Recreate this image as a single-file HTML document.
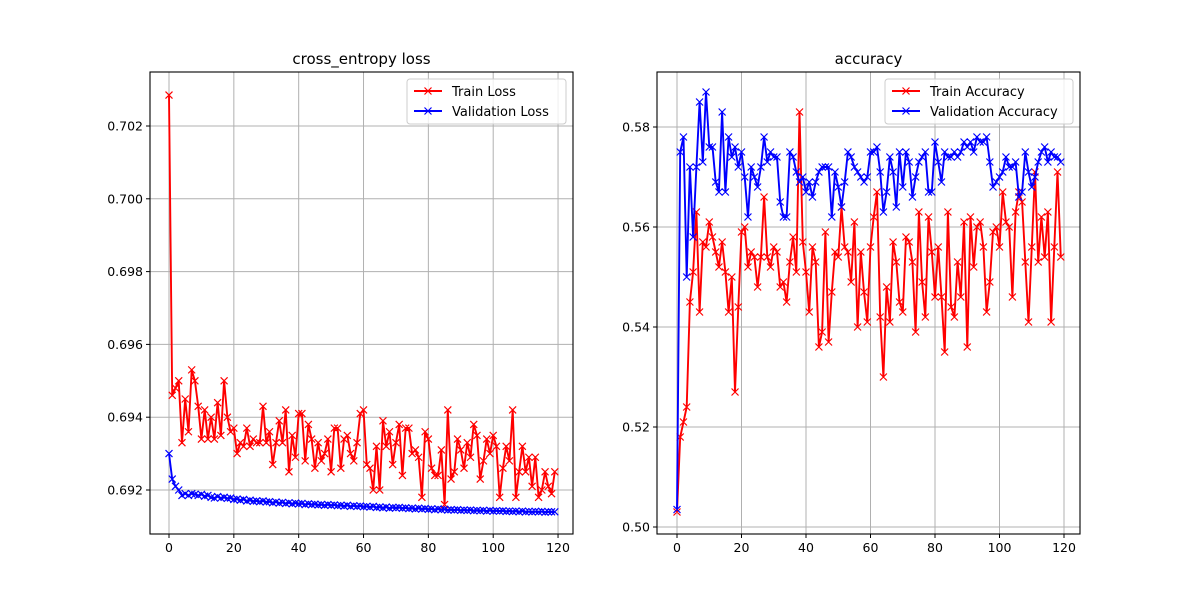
<!DOCTYPE html>
<html><head><meta charset="utf-8"><style>
body{margin:0;background:#fff}
svg{display:block;font-family:"DejaVu Sans","Liberation Sans",sans-serif}
</style></head><body>
<svg id="fig" width="1200" height="600" viewBox="0 0 1200 600"></svg>
<script>
const epochs = Array.from({length:120},(_,i)=>i);
const trainLoss = [0.70285,0.6946,0.6948,0.6950,0.6933,0.6945,0.6936,0.6953,0.6950,0.6943,0.6934,0.6942,0.6934,0.6940,0.6934,0.6944,0.6935,0.6950,0.6940,0.6936,0.6937,0.6930,0.6933,0.6932,0.6937,0.6932,0.6934,0.6933,0.6933,0.6943,0.6933,0.6936,0.6927,0.6933,0.6939,0.6933,0.6942,0.6925,0.6935,0.6929,0.6941,0.6941,0.6928,0.6938,0.6934,0.6926,0.6933,0.6928,0.6930,0.6934,0.6925,0.6937,0.6937,0.6926,0.6934,0.6935,0.6930,0.6928,0.6933,0.6941,0.6942,0.6927,0.6926,0.6920,0.6932,0.6920,0.6939,0.6932,0.6936,0.6927,0.6933,0.6938,0.6924,0.6937,0.6937,0.6930,0.6931,0.6929,0.6918,0.6936,0.6934,0.6926,0.6924,0.6924,0.6931,0.6916,0.6942,0.6923,0.6925,0.6934,0.6931,0.6926,0.6933,0.6929,0.6938,0.6935,0.6923,0.6928,0.6934,0.6930,0.6935,0.6932,0.6918,0.6926,0.6932,0.6928,0.6942,0.6918,0.6925,0.6932,0.6925,0.6929,0.6921,0.6929,0.6918,0.6920,0.6925,0.6921,0.6919,0.6925];
const valLoss = [0.6930,0.6923,0.6921,0.6920,0.69185,0.6919,0.69185,0.6919,0.69188,0.69185,0.69188,0.69183,0.69185,0.6918,0.69178,0.69182,0.69178,0.6918,0.69177,0.69178,0.69174,0.69175,0.69172,0.69174,0.6917,0.69172,0.69169,0.6917,0.69168,0.6917,0.69167,0.69168,0.69165,0.69167,0.69164,0.69166,0.69163,0.69165,0.69162,0.69164,0.69162,0.69163,0.6916,0.69162,0.6916,0.69161,0.69159,0.6916,0.69158,0.6916,0.69158,0.69159,0.69157,0.69158,0.69156,0.69158,0.69155,0.69157,0.69155,0.69156,0.69154,0.69155,0.69153,0.69155,0.69152,0.69153,0.69151,0.69153,0.6915,0.69152,0.69151,0.69152,0.6915,0.69151,0.69149,0.6915,0.69148,0.6915,0.69148,0.69149,0.69147,0.69148,0.69146,0.69148,0.69146,0.69147,0.69145,0.69146,0.69145,0.69146,0.69144,0.69145,0.69144,0.69145,0.69143,0.69144,0.69143,0.69144,0.69142,0.69144,0.69142,0.69143,0.69142,0.69143,0.69141,0.69142,0.69141,0.69142,0.6914,0.69142,0.6914,0.69141,0.6914,0.69141,0.6914,0.69141,0.69139,0.6914,0.6914,0.6914];
const trainAcc = [0.503,0.518,0.521,0.524,0.545,0.551,0.563,0.543,0.557,0.556,0.561,0.558,0.555,0.552,0.557,0.551,0.543,0.550,0.527,0.544,0.559,0.560,0.552,0.555,0.554,0.548,0.554,0.566,0.554,0.552,0.556,0.555,0.548,0.549,0.545,0.553,0.558,0.551,0.583,0.557,0.551,0.543,0.556,0.553,0.536,0.539,0.559,0.537,0.547,0.555,0.554,0.564,0.556,0.555,0.549,0.561,0.540,0.555,0.547,0.541,0.556,0.562,0.567,0.542,0.530,0.548,0.541,0.557,0.553,0.545,0.543,0.558,0.557,0.553,0.539,0.563,0.549,0.542,0.562,0.555,0.546,0.556,0.546,0.535,0.563,0.544,0.542,0.553,0.546,0.561,0.536,0.562,0.552,0.560,0.561,0.556,0.543,0.549,0.559,0.560,0.556,0.567,0.561,0.560,0.546,0.563,0.567,0.565,0.553,0.541,0.556,0.571,0.553,0.562,0.554,0.563,0.541,0.556,0.571,0.554];
const valAcc = [0.5035,0.575,0.578,0.550,0.572,0.558,0.572,0.585,0.573,0.587,0.576,0.576,0.569,0.567,0.583,0.567,0.578,0.574,0.576,0.572,0.575,0.570,0.562,0.572,0.570,0.568,0.572,0.578,0.573,0.575,0.574,0.574,0.565,0.562,0.562,0.575,0.574,0.571,0.569,0.570,0.567,0.569,0.566,0.569,0.571,0.572,0.572,0.572,0.562,0.571,0.568,0.564,0.569,0.575,0.574,0.572,0.571,0.570,0.569,0.570,0.575,0.575,0.576,0.571,0.563,0.567,0.574,0.571,0.564,0.575,0.568,0.575,0.573,0.566,0.570,0.573,0.574,0.575,0.567,0.567,0.577,0.573,0.569,0.575,0.574,0.574,0.575,0.574,0.575,0.577,0.576,0.577,0.575,0.578,0.577,0.577,0.578,0.573,0.568,0.569,0.570,0.571,0.574,0.572,0.572,0.573,0.566,0.567,0.575,0.571,0.568,0.570,0.573,0.575,0.576,0.573,0.575,0.574,0.574,0.573];
const xTicks = [0,20,40,60,80,100,120];
const lossTicks = [0.692,0.694,0.696,0.698,0.700,0.702];
const accTicks = [0.50,0.52,0.54,0.56,0.58];

const NS="http://www.w3.org/2000/svg";
const svg=document.getElementById('fig');
function mk(tag,attrs,parent){const e=document.createElementNS(NS,tag);for(const k in attrs)e.setAttribute(k,attrs[k]);(parent||svg).appendChild(e);return e;}

function panel(cfg){
  const g=mk('g',{});
  
  
  const X=v=>cfg.x0+v*cfg.xs, Y=v=>cfg.y0-(v-cfg.yb)*cfg.ys;
  xTicks.forEach(t=>{const l=mk('line',{x1:X(t),x2:X(t),y1:cfg.top,y2:cfg.bottom,stroke:'#b0b0b0','stroke-width':1},g);
    
    mk('line',{x1:X(t),x2:X(t),y1:cfg.bottom,y2:cfg.bottom+4,stroke:'#000'},g);
    const tx=mk('text',{x:X(t),y:cfg.bottom+18,'font-size':12.5,'text-anchor':'middle'},g);tx.textContent=t;
    });
  cfg.yt.forEach(t=>{const l=mk('line',{x1:cfg.left,x2:cfg.right,y1:Y(t),y2:Y(t),stroke:'#b0b0b0','stroke-width':1},g);
    
    mk('line',{x1:cfg.left-4,x2:cfg.left,y1:Y(t),y2:Y(t),stroke:'#000'},g);
    const tx=mk('text',{x:cfg.left-7,y:Y(t)+4.5,'font-size':12.5,'text-anchor':'end'},g);tx.textContent=t.toFixed(cfg.dec);
    });
  const title=mk('text',{x:(cfg.left+cfg.right)/2,y:64,'font-size':15,'text-anchor':'middle'},g);title.textContent=cfg.title;
  
  const clip='c'+cfg.name;const cp=mk('clipPath',{id:clip},g);mk('rect',{x:cfg.left,y:cfg.top,width:cfg.right-cfg.left,height:cfg.bottom-cfg.top},cp);
  cfg.series.forEach(s=>{
    const sg=mk('g',{'clip-path':'url(#'+clip+')'},g);
    
    const pts=s.data.map((v,i)=>X(epochs[i]).toFixed(1)+','+Y(v).toFixed(1)).join(' ');
    mk('polyline',{points:pts,fill:'none',stroke:s.color,'stroke-width':1.9,'stroke-linejoin':'round'},sg);
    let d='';s.data.forEach((v,i)=>{const x=X(epochs[i]),y=Y(v);d+=`M${x-3.5},${y-3.5}L${x+3.5},${y+3.5}M${x-3.5},${y+3.5}L${x+3.5},${y-3.5}`;});
    mk('path',{d:d,stroke:s.color,'stroke-width':1.2,fill:'none'},sg);
  });
  const box=mk('rect',{x:cfg.left,y:cfg.top,width:cfg.right-cfg.left,height:cfg.bottom-cfg.top,fill:'none',stroke:'#000','stroke-width':1.1},g);
  
  const lg=mk('g',{},g);
  mk('rect',{x:cfg.lx,y:79,width:cfg.lw,height:45,rx:3,fill:'#fff','fill-opacity':0.8,stroke:'#ccc'},lg);
  cfg.series.forEach((s,k)=>{const y=91+k*20;const e=mk('g',{},lg);
    
    mk('line',{x1:cfg.lx+7,x2:cfg.lx+35,y1:y,y2:y,stroke:s.color,'stroke-width':1.9},e);
    mk('path',{d:`M${cfg.lx+17.5},${y-3.5}l7,7m-7,0l7,-7`,stroke:s.color,'stroke-width':1.2},e);
    const t=mk('text',{x:cfg.lx+45,y:y+5,'font-size':13},e);t.textContent=s.label;});
}
panel({name:'loss-chart',title:'cross_entropy loss',left:150,right:573,top:72,bottom:534,x0:169,xs:3.242,y0:490,yb:0.692,ys:36400,yt:lossTicks,dec:3,lx:407,lw:159,
  series:[{name:'train-loss-series',label:'Train Loss',color:'#ff0000',data:trainLoss},{name:'validation-loss-series',label:'Validation Loss',color:'#0000ff',data:valLoss}]});
panel({name:'accuracy-chart',title:'accuracy',left:657,right:1080,top:72,bottom:534,x0:677,xs:3.225,y0:527,yb:0.50,ys:5000,yt:accTicks,dec:2,lx:885,lw:188,
  series:[{name:'train-accuracy-series',label:'Train Accuracy',color:'#ff0000',data:trainAcc},{name:'validation-accuracy-series',label:'Validation Accuracy',color:'#0000ff',data:valAcc}]});
</script>
</body></html>
